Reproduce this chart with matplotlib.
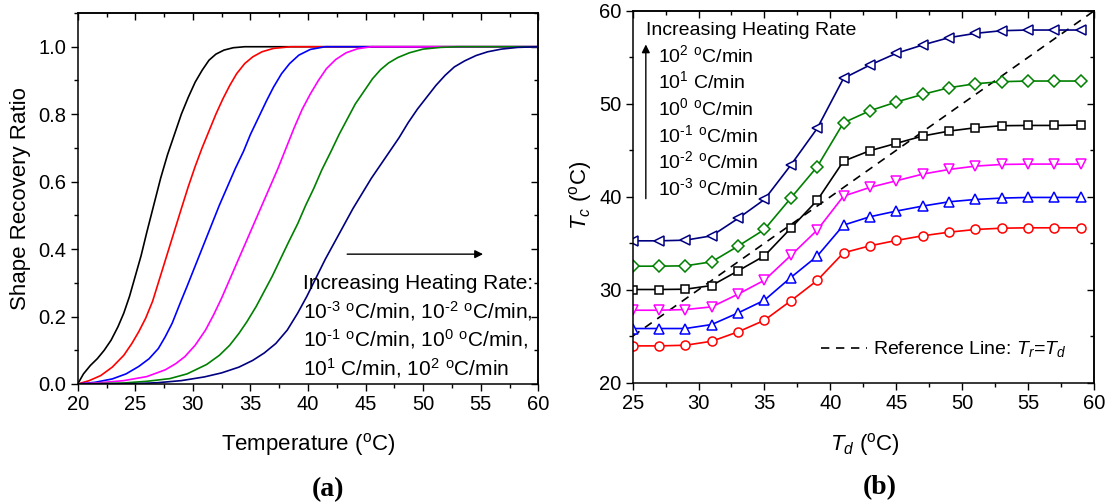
import matplotlib
matplotlib.use("Agg")
import matplotlib.pyplot as plt
from matplotlib.lines import Line2D
from matplotlib.ticker import MultipleLocator, FormatStrFormatter

plt.rcParams["font.family"] = "Liberation Sans"
plt.rcParams["mathtext.fontset"] = "custom"
plt.rcParams["mathtext.rm"] = "Liberation Sans"
plt.rcParams["mathtext.it"] = "Liberation Sans:italic"
plt.rcParams["mathtext.bf"] = "Liberation Sans:bold"

colors = ["black", "#ff0000", "#0000ff", "#ff00ff", "#008000", "#000080"]

# (a) shape recovery ratio vs temperature, one curve per heating rate (1e-3 ... 1e2 C/min)
temp_a = [
    [20, 20.5, 21.1, 21.7, 22.3, 22.9, 23.5, 24.0, 24.5, 25.0, 25.5, 26.0, 26.6, 27.2, 27.8, 28.4,
     29.0, 29.6, 30.2, 30.8, 31.4, 32.0, 32.7, 33.5, 34.5, 60],
    [20, 21, 22, 23, 24, 24.7, 25.3, 25.9, 26.5, 27.0, 27.5, 28.0, 28.5, 29.0, 29.6, 30.2, 30.8,
     31.4, 32.0, 32.6, 33.2, 33.8, 34.5, 35.2, 36.0, 37.0, 38.5, 60],
    [20, 21.5, 23, 24.2, 25.3, 26.2, 27.0, 27.6, 28.2, 28.9, 29.5, 30.2, 30.9, 31.6, 32.3, 33.0,
     33.7, 34.4, 35.0, 35.7, 36.4, 37.0, 37.7, 38.4, 39.2, 40.2, 41.5, 60],
    [20, 22, 24, 26, 27.6, 28.5, 29.3, 30.2, 31.1, 31.8, 32.5, 33.2, 33.9, 34.6, 35.3, 36.0, 36.7,
     37.4, 38.1, 38.8, 39.5, 40.2, 40.9, 41.6, 42.4, 43.3, 44.3, 45.5, 60],
    [20, 24, 26, 28, 29.5, 31.2, 32.3, 33.2, 34.0, 34.7, 35.5, 36.2, 36.9, 37.6, 38.3, 39.1, 39.8,
     40.5, 41.2, 42.0, 42.7, 43.4, 44.1, 44.9, 45.6, 46.3, 47.0, 47.8, 48.8, 50.0, 51.5, 53, 60],
    [20, 25, 27, 29, 31, 32.5, 34, 35.2, 36.2, 37.2, 38.2, 39.1, 39.9, 40.7, 41.5, 42.3, 43.1, 43.9,
     44.7, 45.5, 46.3, 47.1, 47.9, 48.7, 49.5, 50.3, 51.1, 51.9, 52.7, 53.6, 54.6, 55.6, 56.8, 58.2, 60],
]
ratio_a = [
    [0, 0.03, 0.055, 0.075, 0.10, 0.13, 0.17, 0.21, 0.26, 0.32, 0.38, 0.45, 0.53, 0.61, 0.68, 0.74,
     0.80, 0.85, 0.895, 0.93, 0.96, 0.978, 0.99, 0.997, 1.0, 1.0],
    [0, 0.01, 0.025, 0.05, 0.085, 0.12, 0.155, 0.195, 0.245, 0.30, 0.355, 0.41, 0.465, 0.52, 0.585,
     0.645, 0.70, 0.75, 0.80, 0.845, 0.885, 0.92, 0.95, 0.97, 0.985, 0.995, 1.0, 1.0],
    [0, 0.005, 0.015, 0.03, 0.052, 0.075, 0.105, 0.14, 0.18, 0.24, 0.29, 0.35, 0.41, 0.47, 0.53,
     0.585, 0.64, 0.69, 0.74, 0.79, 0.84, 0.88, 0.92, 0.95, 0.975, 0.992, 1.0, 1.0],
    [0, 0.004, 0.01, 0.022, 0.042, 0.06, 0.081, 0.115, 0.16, 0.205, 0.255, 0.31, 0.365, 0.42, 0.475,
     0.53, 0.585, 0.64, 0.70, 0.76, 0.815, 0.86, 0.90, 0.935, 0.962, 0.982, 0.994, 1.0, 1.0],
    [0, 0.003, 0.008, 0.016, 0.03, 0.058, 0.085, 0.115, 0.15, 0.185, 0.23, 0.275, 0.32, 0.37, 0.42,
     0.475, 0.53, 0.58, 0.635, 0.69, 0.74, 0.785, 0.83, 0.87, 0.905, 0.932, 0.952, 0.968, 0.982,
     0.993, 0.998, 1.0, 1.0],
    [0, 0.001, 0.004, 0.01, 0.021, 0.033, 0.05, 0.07, 0.092, 0.12, 0.16, 0.21, 0.26, 0.315, 0.37,
     0.42, 0.47, 0.52, 0.565, 0.61, 0.65, 0.69, 0.73, 0.775, 0.815, 0.85, 0.885, 0.915, 0.94,
     0.958, 0.974, 0.985, 0.993, 0.998, 1.0],
]

# (b) Tc vs Td
td = [25, 27, 29, 31, 33, 35, 37, 39, 41, 43, 45, 47, 49, 51, 53, 55, 57, 59]
tc_rate_m3 = [23.95, 23.95, 24.02, 24.45, 25.46, 26.71, 28.80, 30.99, 33.97, 34.72, 35.30, 35.80,
              36.19, 36.48, 36.62, 36.66, 36.66, 36.66]
tc_rate_m2 = [25.82, 25.82, 25.82, 26.25, 27.50, 28.87, 31.31, 33.61, 36.95, 37.85, 38.46, 39.0,
              39.46, 39.71, 39.86, 39.93, 39.93, 39.93]
tc_rate_m1 = [27.79, 27.79, 27.86, 28.15, 29.52, 31.02, 33.68, 36.41, 40.07, 41.01, 41.72, 42.44,
              42.94, 43.30, 43.48, 43.52, 43.52, 43.52]
tc_rate_0 = [30.02, 30.02, 30.05, 30.45, 32.03, 33.64, 36.62, 39.61, 43.84, 44.96, 45.75, 46.54,
             47.07, 47.43, 47.65, 47.68, 47.68, 47.72]
tc_rate_1 = [32.53, 32.53, 32.57, 33.0, 34.69, 36.48, 39.86, 43.23, 47.97, 49.26, 50.20, 51.02,
             51.74, 52.17, 52.39, 52.46, 52.46, 52.46]
tc_rate_2 = [35.26, 35.26, 35.33, 35.80, 37.67, 39.71, 43.41, 47.36, 52.75, 54.18, 55.44, 56.34,
             57.13, 57.59, 57.88, 57.95, 57.95, 57.95]
ref_line = [25, 60]

tc_b = [tc_rate_m3, tc_rate_m2, tc_rate_m1, tc_rate_0, tc_rate_1, tc_rate_2]
colors_b = ["#ff0000", "#0000ff", "#ff00ff", "black", "#008000", "#000080"]
markers_b = ["o", "^", "v", "s", "D", "<"]
sizes_b = [6.5, 7.5, 7.5, 6, 6.5, 7.5]


def rate(e, deg=True):
    e = e.replace("-", "\u2010")
    return "10$^{\\mathregular{%s}}$ %sC/min" % (e, "$^{\\mathregular{o}}$" if deg else "")


def style_axes(ax, xmaj, xmin, ymaj, ymin):
    ax.xaxis.set_major_locator(MultipleLocator(xmaj))
    ax.xaxis.set_minor_locator(MultipleLocator(xmin))
    ax.yaxis.set_major_locator(MultipleLocator(ymaj))
    ax.yaxis.set_minor_locator(MultipleLocator(ymin))
    ax.tick_params(which="both", direction="out", width=1.0, labelsize=14.5, pad=3)
    ax.tick_params(which="major", length=5)
    ax.tick_params(which="minor", length=3)
    for s in ax.spines.values():
        s.set_linewidth(1.1)
    top = ax.secondary_xaxis("top")
    right = ax.secondary_yaxis("right")
    for sec, axis in ((top, top.xaxis), (right, right.yaxis)):
        axis.set_major_locator(MultipleLocator(xmaj if sec is top else ymaj))
        axis.set_minor_locator(MultipleLocator(xmin if sec is top else ymin))
        sec.tick_params(which="both", direction="in", width=1.0, labeltop=False, labelright=False)
        sec.tick_params(which="major", length=5)
        sec.tick_params(which="minor", length=3)
        for s in sec.spines.values():
            s.set_linewidth(1.1)


fig = plt.figure(figsize=(11.07, 5.04), dpi=100)
ax1 = fig.add_axes([0.0702, 0.2381, 0.4161, 0.7361])
ax2 = fig.add_axes([0.5715, 0.2409, 0.4167, 0.7373])

for t, r, c in zip(temp_a, ratio_a, colors):
    ax1.plot(t, r, color=c, lw=1.2, solid_joinstyle="round")
ax1.set_xlim(20, 60)
ax1.set_ylim(0, 1.1)
style_axes(ax1, 5, 2.5, 0.2, 0.1)
ax1.yaxis.set_major_formatter(FormatStrFormatter("%.1f"))
ax1.set_xlabel("Temperature ($^{\\mathregular{o}}$C)", fontsize=16)
ax1.set_ylabel("Shape Recovery Ratio", fontsize=16)
ax1.xaxis.set_label_coords(308.5 / 1107, 1 - 444 / 504, transform=fig.transFigure)
ax1.yaxis.set_label_coords(20.5 / 1107, 1 - 199 / 504, transform=fig.transFigure)
ax1.xaxis.label.set_va("center")
ax1.yaxis.label.set_va("center")

ax1.annotate("", xy=(55.2, 0.385), xytext=(43.4, 0.385),
             arrowprops=dict(arrowstyle="-|>", lw=1.0, color="black", mutation_scale=12,
                             shrinkA=0, shrinkB=0))
lines_a = ["Increasing Heating Rate:",
           rate("-3") + ", " + rate("-2") + ",",
           rate("-1") + ", " + rate("0") + ",",
           rate("1", False) + ", " + rate("2")]
for s, yb in zip(lines_a, [0.2808, 0.1948, 0.1108, 0.0267]):
    ax1.text(39.6, yb, s, fontsize=15, va="baseline", ha="left")

ax2.plot(ref_line, ref_line, color="black", lw=1.2, dashes=[5, 4])
for y, c, m, ms in zip(tc_b, colors_b, markers_b, sizes_b):
    ax2.plot(td, y, color=c, lw=1.2, marker=m, ms=ms, mfc="white", mec=c, mew=1.1)
ax2.set_xlim(25, 60)
ax2.set_ylim(20, 60)
style_axes(ax2, 5, 2.5, 10, 5)
ax2.set_xlabel("$T_d$ ($^{\\mathregular{o}}$C)", fontsize=16)
ax2.set_ylabel("$T_c$ ($^{\\mathregular{o}}$C)", fontsize=16)
ax2.xaxis.set_label_coords(865 / 1107, 1 - 444 / 504, transform=fig.transFigure)
ax2.yaxis.set_label_coords(580 / 1107, 1 - 195 / 504, transform=fig.transFigure)
ax2.xaxis.label.set_va("center")
ax2.yaxis.label.set_va("center")

ax2.annotate("", xy=(26.0, 56.4), xytext=(26.0, 39.8),
             arrowprops=dict(arrowstyle="-|>", lw=1.0, color="black", mutation_scale=12,
                             shrinkA=0, shrinkB=0))
ax2.text(26.05, 57.42, "Increasing Heating Rate", fontsize=14, va="baseline", ha="left")
lines_b = [rate("2"), rate("1", False), rate("0"), rate("-1"), rate("-2"), rate("-3")]
for s, yb in zip(lines_b, [54.54, 51.68, 48.81, 45.93, 43.07, 40.19]):
    ax2.text(26.95, yb, s, fontsize=14, va="baseline", ha="left")

ref_handle = Line2D([], [], color="black", lw=1.2, dashes=[5, 4])
ax2.legend([ref_handle], ["Reference Line: $T_r$=$T_d$"], fontsize=14, frameon=False,
           loc="center left", bbox_to_anchor=(0.7414, 0.3069), bbox_transform=fig.transFigure,
           borderpad=0, borderaxespad=0, handlelength=2.4, handletextpad=0.3)

fig.text(327.6 / 1107, 1 - 490 / 504, "(a)", fontsize=20, fontweight="bold",
         family="Liberation Serif", ha="center", va="center")
fig.text(880 / 1107, 1 - 488 / 504, "(b)", fontsize=20, fontweight="bold",
         family="Liberation Serif", ha="center", va="center")

fig.savefig("out.png", dpi=100)
